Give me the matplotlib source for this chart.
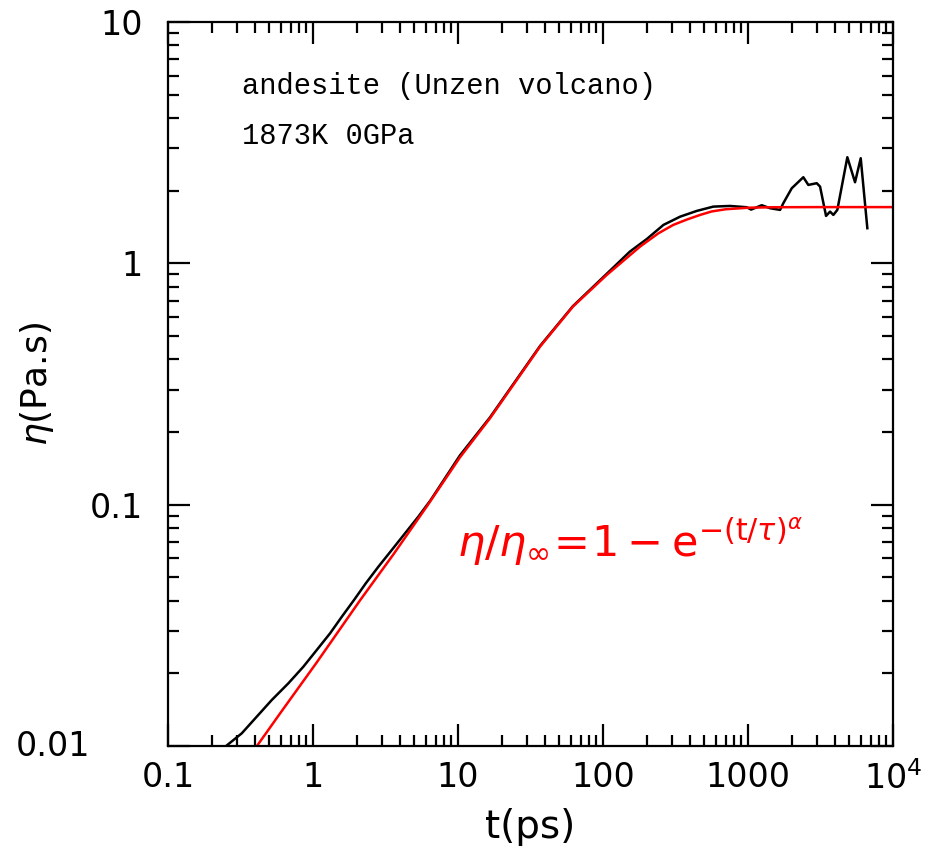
import matplotlib
matplotlib.use("Agg")
import matplotlib.pyplot as plt
from matplotlib.ticker import FixedLocator, NullFormatter
import matplotlib.transforms as mtransforms

# simulated viscosity (black)
t_md = [0.2512, 0.3224, 0.4089, 0.5189, 0.6756, 0.8573, 1.06, 1.31, 1.577, 1.918,
        2.309, 2.82, 3.49, 4.31, 5.32, 6.48, 10.3, 16.6, 36.8, 62, 106, 153, 200,
        261, 340, 443, 576, 751, 979, 1050, 1243, 1418, 1663, 1751, 2002, 2406,
        2605, 2977, 3138, 3451, 3678, 3876, 4129, 4839, 5468, 5986, 6649]
eta_md = [0.0100, 0.01129, 0.01323, 0.01551, 0.01819, 0.02131, 0.02499, 0.0293,
          0.0343, 0.0403, 0.0472, 0.0553, 0.0649, 0.0761, 0.0892, 0.1046, 0.160,
          0.230, 0.455, 0.665, 0.905, 1.118, 1.26, 1.443, 1.561, 1.649, 1.718,
          1.729, 1.708, 1.67, 1.741, 1.692, 1.665, 1.775, 2.047, 2.274, 2.113,
          2.148, 2.080, 1.572, 1.638, 1.587, 1.665, 2.752, 2.168, 2.726, 1.398]

# fitted curve (red)
t_fit = [0.41, 0.6, 1.06, 2.1, 3.6, 6.1, 10.3, 16.6, 36.8, 62, 106, 180, 240,
         305, 380, 467, 560, 700, 1000, 1500, 3000, 10000]
eta_fit = [0.0100, 0.0138, 0.0222, 0.0400, 0.0625, 0.0985, 0.157, 0.228, 0.452,
           0.662, 0.895, 1.173, 1.33, 1.443, 1.52, 1.587, 1.64, 1.675, 1.700,
           1.708, 1.71, 1.71]

x_ticks = [0.1, 1, 10, 100, 1000, 10000]
x_labels = ['0.1', '1', '10', '100', '1000', r'$10^4$']
y_ticks = [0.01, 0.1, 1, 10]
y_labels = ['', '0.1', '1', '10']

fig = plt.figure(figsize=(9.32, 8.59), dpi=100)
ax = fig.add_axes([0.1803, 0.1315, 0.7779, 0.8429])

ax.plot(t_md, eta_md, color='black', lw=1.8)
ax.plot(t_fit, eta_fit, color='red', lw=1.8)

ax.set_xscale('log')
ax.set_yscale('log')
ax.set_xlim(0.1, 1e4)
ax.set_ylim(0.01, 10)

minor_x = [m * 10.0**e for e in range(-1, 4) for m in range(2, 10)]
minor_y = [m * 10.0**e for e in range(-2, 1) for m in range(2, 10)]
ax.xaxis.set_major_locator(FixedLocator(x_ticks))
ax.xaxis.set_minor_locator(FixedLocator(minor_x))
ax.yaxis.set_major_locator(FixedLocator(y_ticks))
ax.yaxis.set_minor_locator(FixedLocator(minor_y))
ax.set_xticklabels(x_labels)
ax.set_yticklabels(y_labels)
ax.xaxis.set_minor_formatter(NullFormatter())
ax.yaxis.set_minor_formatter(NullFormatter())

ax.tick_params(which='both', direction='in', top=True, right=True, width=1.6)
ax.tick_params(which='major', length=16, labelsize=24)
ax.tick_params(which='minor', length=8)
ax.tick_params(axis='x', which='major', pad=11)
ax.tick_params(axis='y', which='major', pad=18)
for s in ax.spines.values():
    s.set_linewidth(1.6)

# bottom y label sits further left in the original
trans = mtransforms.blended_transform_factory(ax.transAxes, ax.transData)
ax.text(-0.107, 0.01, '0.01', transform=trans, ha='right', va='center', fontsize=24)

ax.set_xlabel('t(ps)', fontsize=28)
ax.set_ylabel(r'$\eta$(Pa.s)', fontsize=26)
ax.xaxis.set_label_coords(0.5, -0.086)
ax.yaxis.set_label_coords(-0.155, 0.5)

ax.text(0.102, 0.9006, 'andesite (Unzen volcano)', transform=ax.transAxes,
        family='Liberation Mono', fontsize=20.7, va='baseline')
ax.text(0.102, 0.8315, '1873K 0GPa', transform=ax.transAxes,
        family='Liberation Mono', fontsize=20.7, va='baseline')

ax.text(0.398, 0.262, r'$\eta/\eta_{\infty}\!=\!1-\mathrm{e}^{-(\mathrm{t}/\tau)^{\alpha}}$',
        transform=ax.transAxes, color='red', fontsize=31, va='baseline')

fig.savefig('out.png', dpi=100)
